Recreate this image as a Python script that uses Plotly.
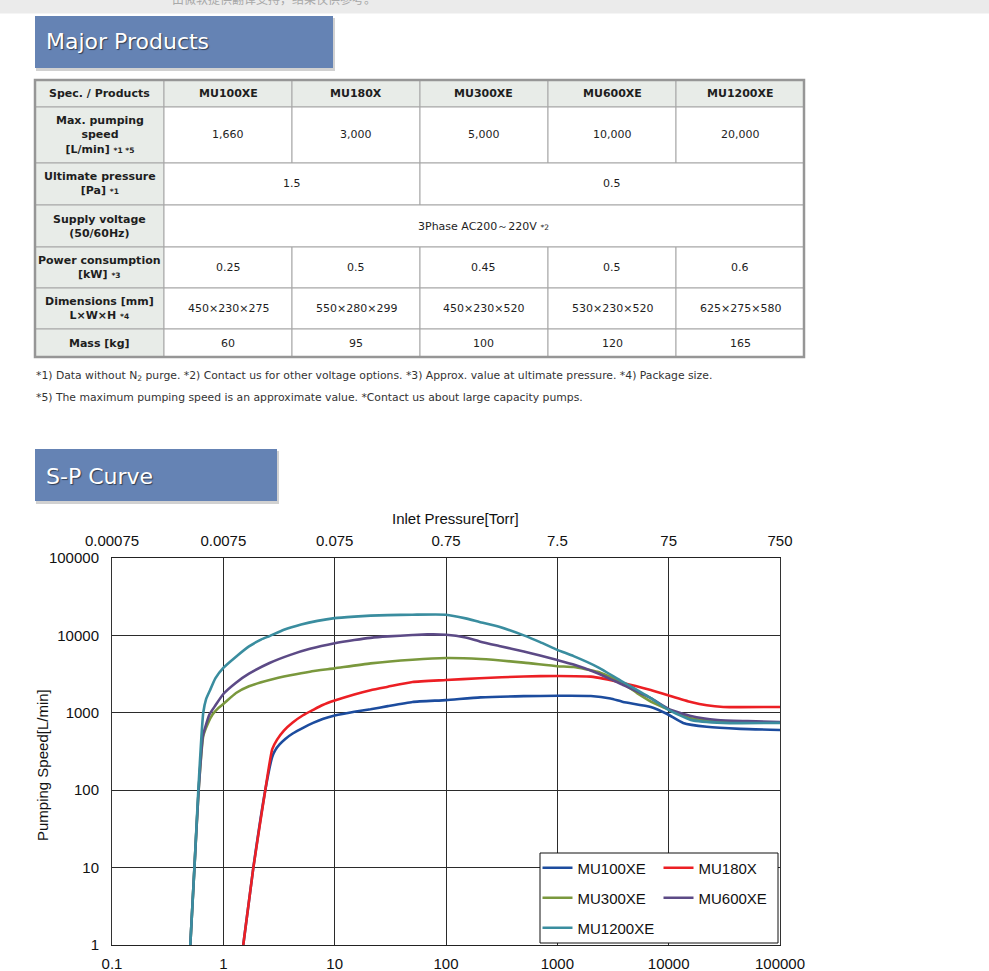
import plotly.graph_objects as go

# ---------------- data ----------------
products = ["MU100XE", "MU180X", "MU300XE", "MU600XE", "MU1200XE"]
max_speed = ["1,660", "3,000", "5,000", "10,000", "20,000"]
ult_pressure = ["1.5", "0.5"]
ult_pressure_span = [2, 3]
supply_voltage = "3Phase AC200～220V"
power = ["0.25", "0.5", "0.45", "0.5", "0.6"]
dims = ["450×230×275", "550×280×299", "450×230×520", "530×230×520", "625×275×580"]
mass = ["60", "95", "100", "120", "165"]

pa_ticks = [0.1, 1, 10, 100, 1000, 10000, 100000]
pa_labels = ["0.1", "1", "10", "100", "1000", "10000", "100000"]
torr_ticks = [0.00075, 0.0075, 0.075, 0.75, 7.5, 75, 750]
torr_labels = ["0.00075", "0.0075", "0.075", "0.75", "7.5", "75", "750"]
speed_ticks = [1, 10, 100, 1000, 10000, 100000]
speed_labels = ["1", "10", "100", "1000", "10000", "100000"]

p_mu100xe = [1.51, 1.86, 2.38, 2.75, 2.93, 3.2, 3.6, 4.2, 5.2, 6.4, 7.8, 10, 15, 21, 30,
             50, 100, 204, 500, 1000, 2000, 3000, 3900, 6900, 9700, 13500, 22000, 44000, 100000]
s_mu100xe = [1, 10, 100, 270, 330, 390, 460, 540, 640, 740, 830, 920, 1030, 1110, 1220,
             1380, 1460, 1580, 1640, 1660, 1650, 1530, 1380, 1190, 965, 740, 660, 620, 600]

p_mu180x = [1.51, 1.86, 2.38, 2.75, 3.04, 3.5, 4.2, 5.2, 6.4, 7.8, 10, 15, 21, 30, 50,
            100, 200, 500, 1000, 2000, 3900, 6900, 9700, 15800, 22000, 31000, 100000]
s_mu180x = [1, 10, 100, 340, 450, 590, 750, 930, 1090, 1260, 1440, 1730, 1960, 2170,
            2500, 2650, 2800, 2950, 2990, 2930, 2430, 1970, 1700, 1380, 1250, 1190, 1190]

p_mu300xe = [0.505, 0.55, 0.60, 0.66, 0.73, 0.8, 0.9, 1.0, 1.3, 1.7, 2.6, 4, 6, 10, 21, 50, 100,
             204, 500, 1000, 1400, 2300, 3470, 5200, 7300, 10000, 15800, 31000, 100000]
s_mu300xe = [1, 10, 100, 500, 740, 950, 1150, 1300, 1800, 2200, 2650, 3050, 3400, 3750, 4350, 4850,
             5100, 4950, 4450, 4000, 3900, 3380, 2650, 1800, 1340, 1100, 850, 760, 745]

p_mu600xe = [0.505, 0.55, 0.60, 0.655, 0.69, 0.75, 0.85, 1.0, 1.3, 1.7, 2.6, 4, 6, 10, 15, 21, 30,
             50, 68, 100, 150, 204, 300, 500, 700, 1000, 1400, 2300, 3900, 6900, 10000, 15800,
             27500, 51000, 100000]
s_mu600xe = [1, 10, 100, 500, 660, 950, 1250, 1750, 2450, 3200, 4400, 5600, 6700, 7900, 8700, 9300,
             9700, 10100, 10300, 10200, 9400, 8300, 7300, 6200, 5500, 4800, 4200, 3250, 2290, 1550,
             1120, 910, 807, 780, 760]

p_mu1200xe = [0.505, 0.55, 0.596, 0.63, 0.66, 0.7, 0.76, 0.85, 1.0, 1.3, 1.7, 2.2, 2.6, 3.5, 5, 7,
              10, 15, 21, 30, 50, 100, 150, 200, 300, 500, 700, 1000, 1400, 2300, 3900, 6900,
              10000, 15800, 31000, 100000]
s_mu1200xe = [1, 10, 100, 400, 1000, 1500, 1960, 2800, 3800, 5300, 7200, 8900, 9800, 11800, 13800,
              15400, 16700, 17500, 18000, 18300, 18500, 18500, 16600, 14900, 12900, 10000, 8200,
              6500, 5400, 3900, 2500, 1550, 1090, 810, 740, 740]

series = [
    ("MU100XE", p_mu100xe, s_mu100xe, "#1c4c9e", "legend"),
    ("MU180X", p_mu180x, s_mu180x, "#ec1f24", "legend"),
    ("MU300XE", p_mu300xe, s_mu300xe, "#7a983d", "legend2"),
    ("MU600XE", p_mu600xe, s_mu600xe, "#5c4a86", "legend2"),
    ("MU1200XE", p_mu1200xe, s_mu1200xe, "#3a8d9f", "legend3"),
]

# ---------------- geometry helpers (pixel -> paper) ----------------
W, H = 989, 971
L, R, T, B = 112, 780, 558, 945


def px(x):
    return (x - L) / (R - L)


def py(y):
    return (B - y) / (B - T)


TF = "Verdana, DejaVu Sans, sans-serif"
CF = "Liberation Sans, Arial, sans-serif"

fig = go.Figure()
for name, p, s, c, lg in series:
    fig.add_trace(go.Scatter(x=p, y=s, name=name, mode="lines",
                             line=dict(color=c, width=2.6, shape="spline", smoothing=0.5),
                             legend=lg, xaxis="x", yaxis="y"))
# top (Torr) axis carrier
fig.add_trace(go.Scatter(x=torr_ticks, y=[None] * len(torr_ticks), xaxis="x2", yaxis="y",
                         showlegend=False, hoverinfo="skip", mode="lines"))

shapes = []
annotations = []

# top gray band with clipped translation notice
shapes.append(dict(type="rect", xref="paper", yref="paper", x0=px(0), x1=px(W), y0=py(0), y1=py(13.5),
                   fillcolor="#ebebeb", line=dict(width=0), layer="below"))
annotations.append(dict(xref="paper", yref="paper", x=px(170), y=py(-1), xanchor="left", yanchor="middle",
                        text="由微软提供翻译支持，结果仅供参考。", showarrow=False,
                        font=dict(family="Noto Sans CJK SC", size=12, color="#a8a8a8")))


def header_box(x0, x1, y0, y1, text, ty):
    shapes.append(dict(type="rect", xref="paper", yref="paper", x0=px(x0 + 1), x1=px(x1 + 2), y0=py(y0 + 2),
                       y1=py(y1 + 3), fillcolor="rgba(0,0,0,0.18)", line=dict(width=0), layer="below"))
    shapes.append(dict(type="rect", xref="paper", yref="paper", x0=px(x0), x1=px(x1), y0=py(y0), y1=py(y1),
                       fillcolor="#6583b4", line=dict(width=0), layer="below"))
    annotations.append(dict(xref="paper", yref="paper", x=px(x0 + 9), y=py(ty), xanchor="left",
                            yanchor="middle", text=text, showarrow=False,
                            font=dict(family=TF, size=22, color="white", shadow="1px 1px 1px rgba(0,0,0,0.55)")))


header_box(35, 333, 16, 68, "Major Products", 42)
header_box(35, 277, 449, 501, "S-P Curve", 476)

# ---------------- table ----------------
cx = [35, 164, 292, 420, 548, 676, 804]
ry = [80, 107, 163, 205, 247, 288, 329, 357]
HDR = "#e8ece8"


def cell(c0, c1, r, text, bold=False, fill="white", size=11):
    x0, x1, y0, y1 = cx[c0], cx[c1], ry[r], ry[r + 1]
    shapes.append(dict(type="rect", xref="paper", yref="paper", x0=px(x0), x1=px(x1), y0=py(y0), y1=py(y1),
                       fillcolor=fill, line=dict(color="#a6a6a6", width=1), layer="below"))
    t = "<b>%s</b>" % text if bold else text
    annotations.append(dict(xref="paper", yref="paper", x=px((x0 + x1) / 2), y=py((y0 + y1) / 2),
                            xanchor="center", yanchor="middle", text=t, showarrow=False, align="center",
                            font=dict(family=TF, size=size, color="#1e1e1e")))


def note(t):
    return "<span style='font-size:7.5px'>%s</span>" % t


row_labels = [
    "Spec. / Products",
    "Max. pumping<br>speed<br>[L/min] " + note("*1 *5"),
    "Ultimate pressure<br>[Pa] " + note("*1"),
    "Supply voltage<br>(50/60Hz)",
    "Power consumption<br>[kW] " + note("*3"),
    "Dimensions [mm]<br>L×W×H " + note("*4"),
    "Mass [kg]",
]
for r, lab in enumerate(row_labels):
    cell(0, 1, r, lab, bold=True, fill=HDR)
for i, p in enumerate(products):
    cell(i + 1, i + 2, 0, p, bold=True, fill=HDR)
for i, v in enumerate(max_speed):
    cell(i + 1, i + 2, 1, v)
c = 1
for v, span in zip(ult_pressure, ult_pressure_span):
    cell(c, c + span, 2, v)
    c += span
cell(1, 6, 3, supply_voltage + " " + note("*2"))
for i, v in enumerate(power):
    cell(i + 1, i + 2, 4, v)
for i, v in enumerate(dims):
    cell(i + 1, i + 2, 5, v)
for i, v in enumerate(mass):
    cell(i + 1, i + 2, 6, v)
shapes.append(dict(type="rect", xref="paper", yref="paper", x0=px(cx[0]), x1=px(cx[-1]), y0=py(ry[0]),
                   y1=py(ry[-1]), line=dict(color="#969696", width=2.5), layer="below"))

footnotes = [
    "*1) Data without N<sub>2</sub> purge. *2) Contact us for other voltage options. "
    "*3) Approx. value at ultimate pressure. *4) Package size.",
    "*5) The maximum pumping speed is an approximate value. *Contact us about large capacity pumps.",
]
for t, yy in zip(footnotes, [376, 397]):
    annotations.append(dict(xref="paper", yref="paper", x=px(34), y=py(yy), xanchor="left", yanchor="middle",
                            text=t, showarrow=False, font=dict(family=TF, size=10.8, color="#333333")))

# chart titles
annotations.append(dict(xref="paper", yref="paper", x=px(455), y=py(518), xanchor="center", yanchor="middle",
                        text="Inlet Pressure[Torr]", showarrow=False, font=dict(family=CF, size=15, color="#111")))
annotations.append(dict(xref="paper", yref="paper", x=px(42), y=py(765), xanchor="center", yanchor="middle",
                        text="Pumping Speed[L/min]", textangle=-90, showarrow=False,
                        font=dict(family=CF, size=15, color="#111")))

# legend box
shapes.append(dict(type="rect", xref="paper", yref="paper", x0=px(540), x1=px(778), y0=py(853), y1=py(943),
                   fillcolor="white", line=dict(color="#111", width=1), layer="above"))

leg_common = dict(orientation="h", xref="paper", yref="paper", x=px(537.5), xanchor="left", yanchor="middle",
                  bgcolor="rgba(0,0,0,0)", borderwidth=0, entrywidth=76, entrywidthmode="pixels",
                  itemwidth=30, font=dict(family=CF, size=15, color="#111"), itemclick=False)

axis_font = dict(family=CF, size=15, color="#111")
fig.update_layout(
    width=W, height=H,
    margin=dict(l=L, r=W - R, t=T, b=H - B, pad=0),
    paper_bgcolor="white", plot_bgcolor="white",
    showlegend=True,
    legend=dict(leg_common, y=py(868)),
    legend2=dict(leg_common, y=py(898)),
    legend3=dict(leg_common, y=py(928)),
    xaxis=dict(type="log", range=[-1, 5], tickvals=pa_ticks, ticktext=pa_labels, showgrid=True,
               gridcolor="#2b2b2b", gridwidth=1, showline=True, linecolor="#222", linewidth=1,
               ticks="", tickfont=axis_font, ticklabelstandoff=5, zeroline=False, automargin=False),
    xaxis2=dict(type="log", range=[-3.1249387366, 2.8750612634], overlaying="x", side="top", anchor="y",
                tickvals=torr_ticks, ticktext=torr_labels, showgrid=False, showline=True, linecolor="#222",
                linewidth=1, ticks="", tickfont=axis_font, ticklabelstandoff=5, automargin=False),
    yaxis=dict(type="log", range=[0, 5], tickvals=speed_ticks, ticktext=speed_labels, showgrid=True,
               gridcolor="#2b2b2b", gridwidth=1, showline=True, linecolor="#333", linewidth=1, mirror=True,
               ticks="", tickfont=axis_font, ticklabelstandoff=9, zeroline=False, automargin=False),
    shapes=shapes,
    annotations=annotations,
    hovermode=False,
)

fig.write_html("out.html", config={"displayModeBar": False},
               post_script="document.body.style.margin='0px';document.body.style.overflow='hidden';")
